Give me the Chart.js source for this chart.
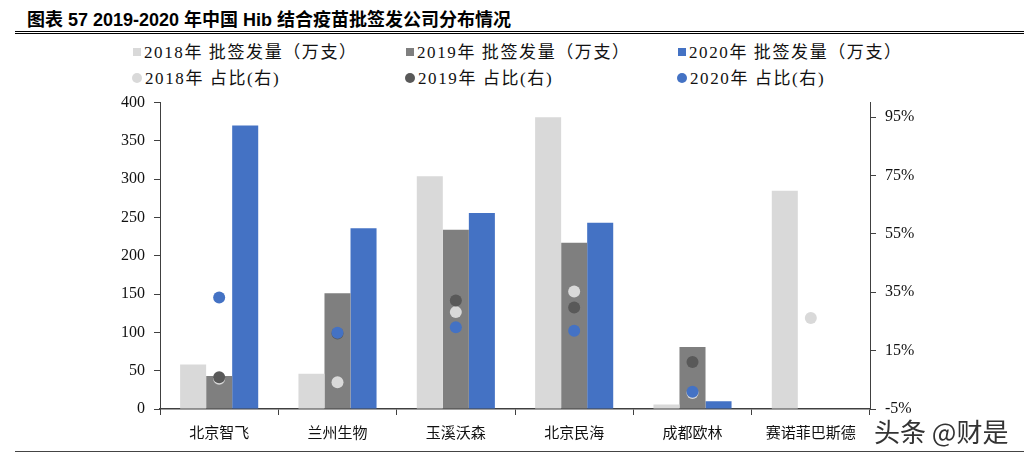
<!DOCTYPE html>
<html lang="zh">
<head>
<meta charset="UTF-8">
<title>Hib 结合疫苗批签发公司分布</title>
<script src="https://cdn.jsdelivr.net/npm/chart.js"></script>
<style>
  body { margin: 0; width: 1024px; height: 456px; background: #fff; position: relative; overflow: hidden; font-family: "Liberation Serif", "DejaVu Serif", "Noto Sans CJK SC", serif; }
  #title { position: absolute; left: 27px; top: 5px; font: bold 18px "Liberation Sans", "Noto Sans CJK SC", sans-serif; color: #000; white-space: nowrap; }
  #rule { position: absolute; left: 15px; right: 0; top: 31px; border-top: 3px double #000; }
  #bottomRule { position: absolute; left: 15px; right: 0; top: 451px; border-top: 1px solid #444; }
  .leg { position: absolute; font-size: 17px; color: #111; white-space: nowrap; letter-spacing: 1.6px; line-height: 20px; }
  .leg i { display: inline-block; width: 8px; height: 8px; margin-right: 3px; vertical-align: 2px; }
  .leg i.dot { border-radius: 50%; width: 10px; height: 10px; vertical-align: 1px; }
  #wm { position: absolute; left: 874px; top: 412px; font: 26px "Noto Sans CJK SC", sans-serif; color: #333; white-space: nowrap; }
  #box { position: absolute; left: 0; top: 84px; width: 1024px; height: 372px; }
</style>
</head>
<body>
<div id="title">图表 57 2019-2020 年中国 Hib 结合疫苗批签发公司分布情况</div>
<div id="rule"></div>
<div id="legend"></div>
<div id="box"><canvas id="c"></canvas></div>
<div id="wm">头条 @财是</div>
<div id="bottomRule"></div>
<script>
// categories and series
const companies = ['北京智飞', '兰州生物', '玉溪沃森', '北京民海', '成都欧林', '赛诺菲巴斯德'];
const barNames = ['2018年 批签发量（万支）', '2019年 批签发量（万支）', '2020年 批签发量（万支）'];
const shareNames = ['2018年 占比(右)', '2019年 占比(右)', '2020年 占比(右)'];

// 批签发量（万支）
const lots2018 = [58, 46, 304, 381, 6, 285];
const lots2019 = [43, 151, 234, 217, 81, null];
const lots2020 = [370, 236, 256, 243, 10, null];

// 占比 (%)
const share2018 = [5.4, 4.2, 28.2, 35.3, 0.5, 26.2];
const share2019 = [5.9, 20.9, 32.2, 29.8, 11.1, null];
const share2020 = [33.2, 21.1, 23.0, 21.8, 0.9, null];

const leftTicks = [0, 50, 100, 150, 200, 250, 300, 350, 400];
const rightTicks = [-5, 15, 35, 55, 75, 95];

const barColors = ['#D9D9D9', '#7F7F7F', '#4472C4'];
const dotColors = ['#D9D9D9', '#595959', '#4472C4'];

// legend in two rows, three fixed columns
const legendCols = [133, 406, 678];
let html = '';
barNames.forEach((n, i) => {
  html += `<div class="leg" style="left:${legendCols[i]}px;top:43px"><i style="background:${barColors[i]}"></i>${n}</div>`;
});
shareNames.forEach((n, i) => {
  html += `<div class="leg" style="left:${legendCols[i] - 1}px;top:69px"><i class="dot" style="background:${dotColors[i]}"></i>${n}</div>`;
});
document.getElementById('legend').innerHTML = html;

Chart.defaults.font.family = '"Liberation Serif", "DejaVu Serif", serif';
const axisColor = '#404040';
const tickFont = { family: '"Liberation Serif", "DejaVu Serif", serif', size: 16 };

const barSets = [lots2018, lots2019, lots2020].map((d, i) => ({
  type: 'bar', label: barNames[i], data: d, backgroundColor: barColors[i],
  yAxisID: 'y', order: 10, categoryPercentage: 0.66, barPercentage: 1
}));
const dotSets = [share2018, share2019, share2020].map((d, i) => ({
  type: 'line', label: shareNames[i], data: d, showLine: false,
  pointRadius: 6, pointHoverRadius: 6, pointBackgroundColor: dotColors[i],
  pointBorderWidth: 0, borderColor: dotColors[i], yAxisID: 'y1', order: 3 - i
}));

new Chart(document.getElementById('c'), {
  data: { labels: companies, datasets: [...barSets, ...dotSets] },
  options: {
    responsive: true, maintainAspectRatio: false, animation: false,
    layout: { padding: { top: 7, left: 0, right: 0, bottom: 0 } },
    plugins: { legend: { display: false }, tooltip: { enabled: false } },
    scales: {
      x: {
        offset: true,
        grid: { offset: true, drawOnChartArea: false, tickLength: 6, color: axisColor },
        border: { color: axisColor, width: 1.5 },
        ticks: { font: { family: '"Noto Sans CJK SC", sans-serif', size: 15 }, color: '#111', padding: 8, maxRotation: 0 },
        afterFit: s => { s.height = 47; }
      },
      y: {
        position: 'left', min: 0, max: 400,
        afterBuildTicks: s => { s.ticks = leftTicks.map(v => ({ value: v })); },
        grid: { drawOnChartArea: false, tickLength: 6, color: axisColor },
        border: { color: axisColor, width: 1 },
        ticks: { font: tickFont, color: '#111', padding: 9 },
        afterFit: s => { s.width = 160; }
      },
      y1: {
        position: 'right', min: -5, max: 100,
        afterBuildTicks: s => { s.ticks = rightTicks.map(v => ({ value: v })); },
        grid: { drawOnChartArea: false, tickLength: 6, color: axisColor },
        border: { color: axisColor, width: 1 },
        ticks: { font: tickFont, color: '#111', padding: 9, callback: v => v + '%' },
        afterFit: s => { s.width = 154; }
      }
    }
  }
});
</script>
</body>
</html>
